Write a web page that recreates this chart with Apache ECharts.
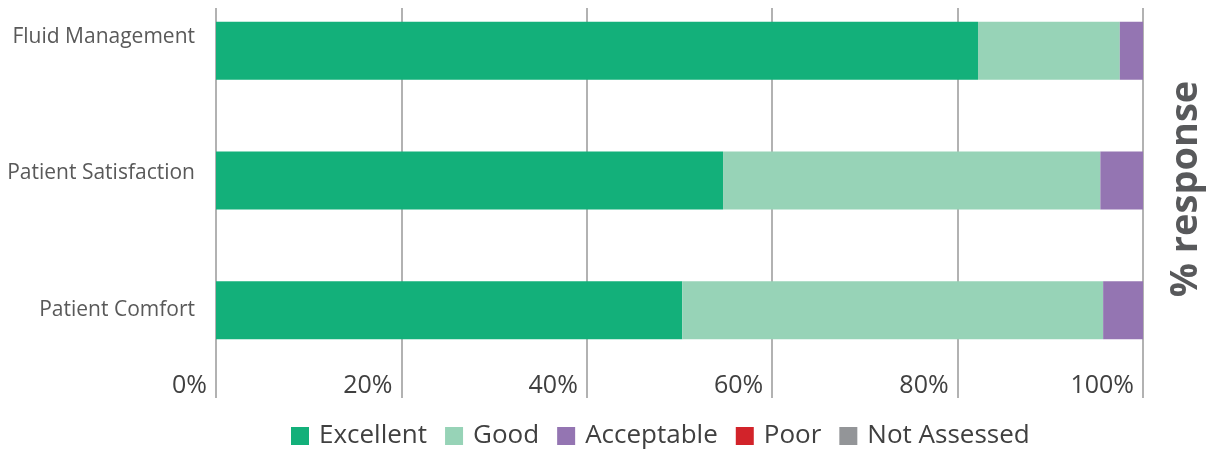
<!DOCTYPE html>
<html><head><meta charset="utf-8">
<script src="https://cdn.jsdelivr.net/npm/echarts@6/dist/echarts.min.js"></script>
<style>html,body{margin:0;padding:0;background:#fff}#c{width:1209px;height:451px}</style>
</head><body><div id="c"></div>
<script>
const categories = ['Fluid Management', 'Patient Satisfaction', 'Patient Comfort'];
const seriesNames = ['Excellent', 'Good', 'Acceptable', 'Poor', 'Not Assessed'];
const excellent = [82.2, 54.7, 50.3];
const good = [15.3, 40.7, 45.4];
const acceptable = [2.5, 4.6, 4.3];
const poor = [0, 0, 0];
const notAssessed = [0, 0, 0];
const xTicks = [0, 20, 40, 60, 80, 100];
const colors = ['#13B07A', '#97D3B7', '#9475B2', '#D2232A', '#939598'];
const values = [excellent, good, acceptable, poor, notAssessed];

const chart = echarts.init(document.getElementById('c'));
const font = '"Open Sans", "Noto Sans", sans-serif';
chart.setOption({
  animation: false,
  textStyle: { fontFamily: font },
  grid: [
    { left: 216, right: 66, top: -14, bottom: 76, outerBoundsMode: 'none' },
    { left: 216, right: 66, top: 8, bottom: 53, outerBoundsMode: 'none' },
    { left: 216, right: 66, top: -31, bottom: 73, outerBoundsMode: 'none' }
  ],
  legend: {
    data: seriesNames,
    top: 418, left: 286,
    itemWidth: 18, itemHeight: 18, itemGap: 18,
    icon: 'rect',
    textStyle: { fontSize: 26, color: '#404040', fontFamily: font, padding: [0, 0, 0, 5] }
  },
  xAxis: [
    { gridIndex: 0, type: 'value', min: 0, max: 100, show: false },
    { gridIndex: 1, type: 'value', min: 0, max: 100, interval: 20,
      axisLine: { show: false }, axisTick: { show: false },
      splitLine: { show: true, lineStyle: { color: '#999', width: 1.5 } },
      axisLabel: { inside: true, align: 'right', margin: 0, padding: [0, 9, 0, 0],
        fontSize: 25, color: '#404040', fontFamily: font,
        formatter: v => xTicks.includes(v) ? v + '%' : '' } },
    { gridIndex: 2, type: 'value', min: 0, max: 100, show: false }
  ],
  yAxis: [
    { gridIndex: 0, type: 'category', data: categories, inverse: true, show: false },
    { gridIndex: 1, type: 'category', data: ['a'], show: false },
    { gridIndex: 2, type: 'category', data: categories, inverse: true,
      axisLine: { show: false }, axisTick: { show: false }, splitLine: { show: false },
      axisLabel: { fontSize: 21, color: '#595959', margin: 21, fontFamily: font } }
  ],
  graphic: [{
    type: 'text', x: 1186, y: 189, rotation: Math.PI / 2,
    style: { text: '% response', fontSize: 38, fontWeight: 'bold', fill: '#58595B',
      fontFamily: font, align: 'center', verticalAlign: 'middle' }
  }],
  series: seriesNames.map((n, i) => ({
    name: n, type: 'bar', stack: 'total', xAxisIndex: 0, yAxisIndex: 0,
    barWidth: 58, data: values[i], itemStyle: { color: colors[i] }
  }))
});
</script></body></html>
